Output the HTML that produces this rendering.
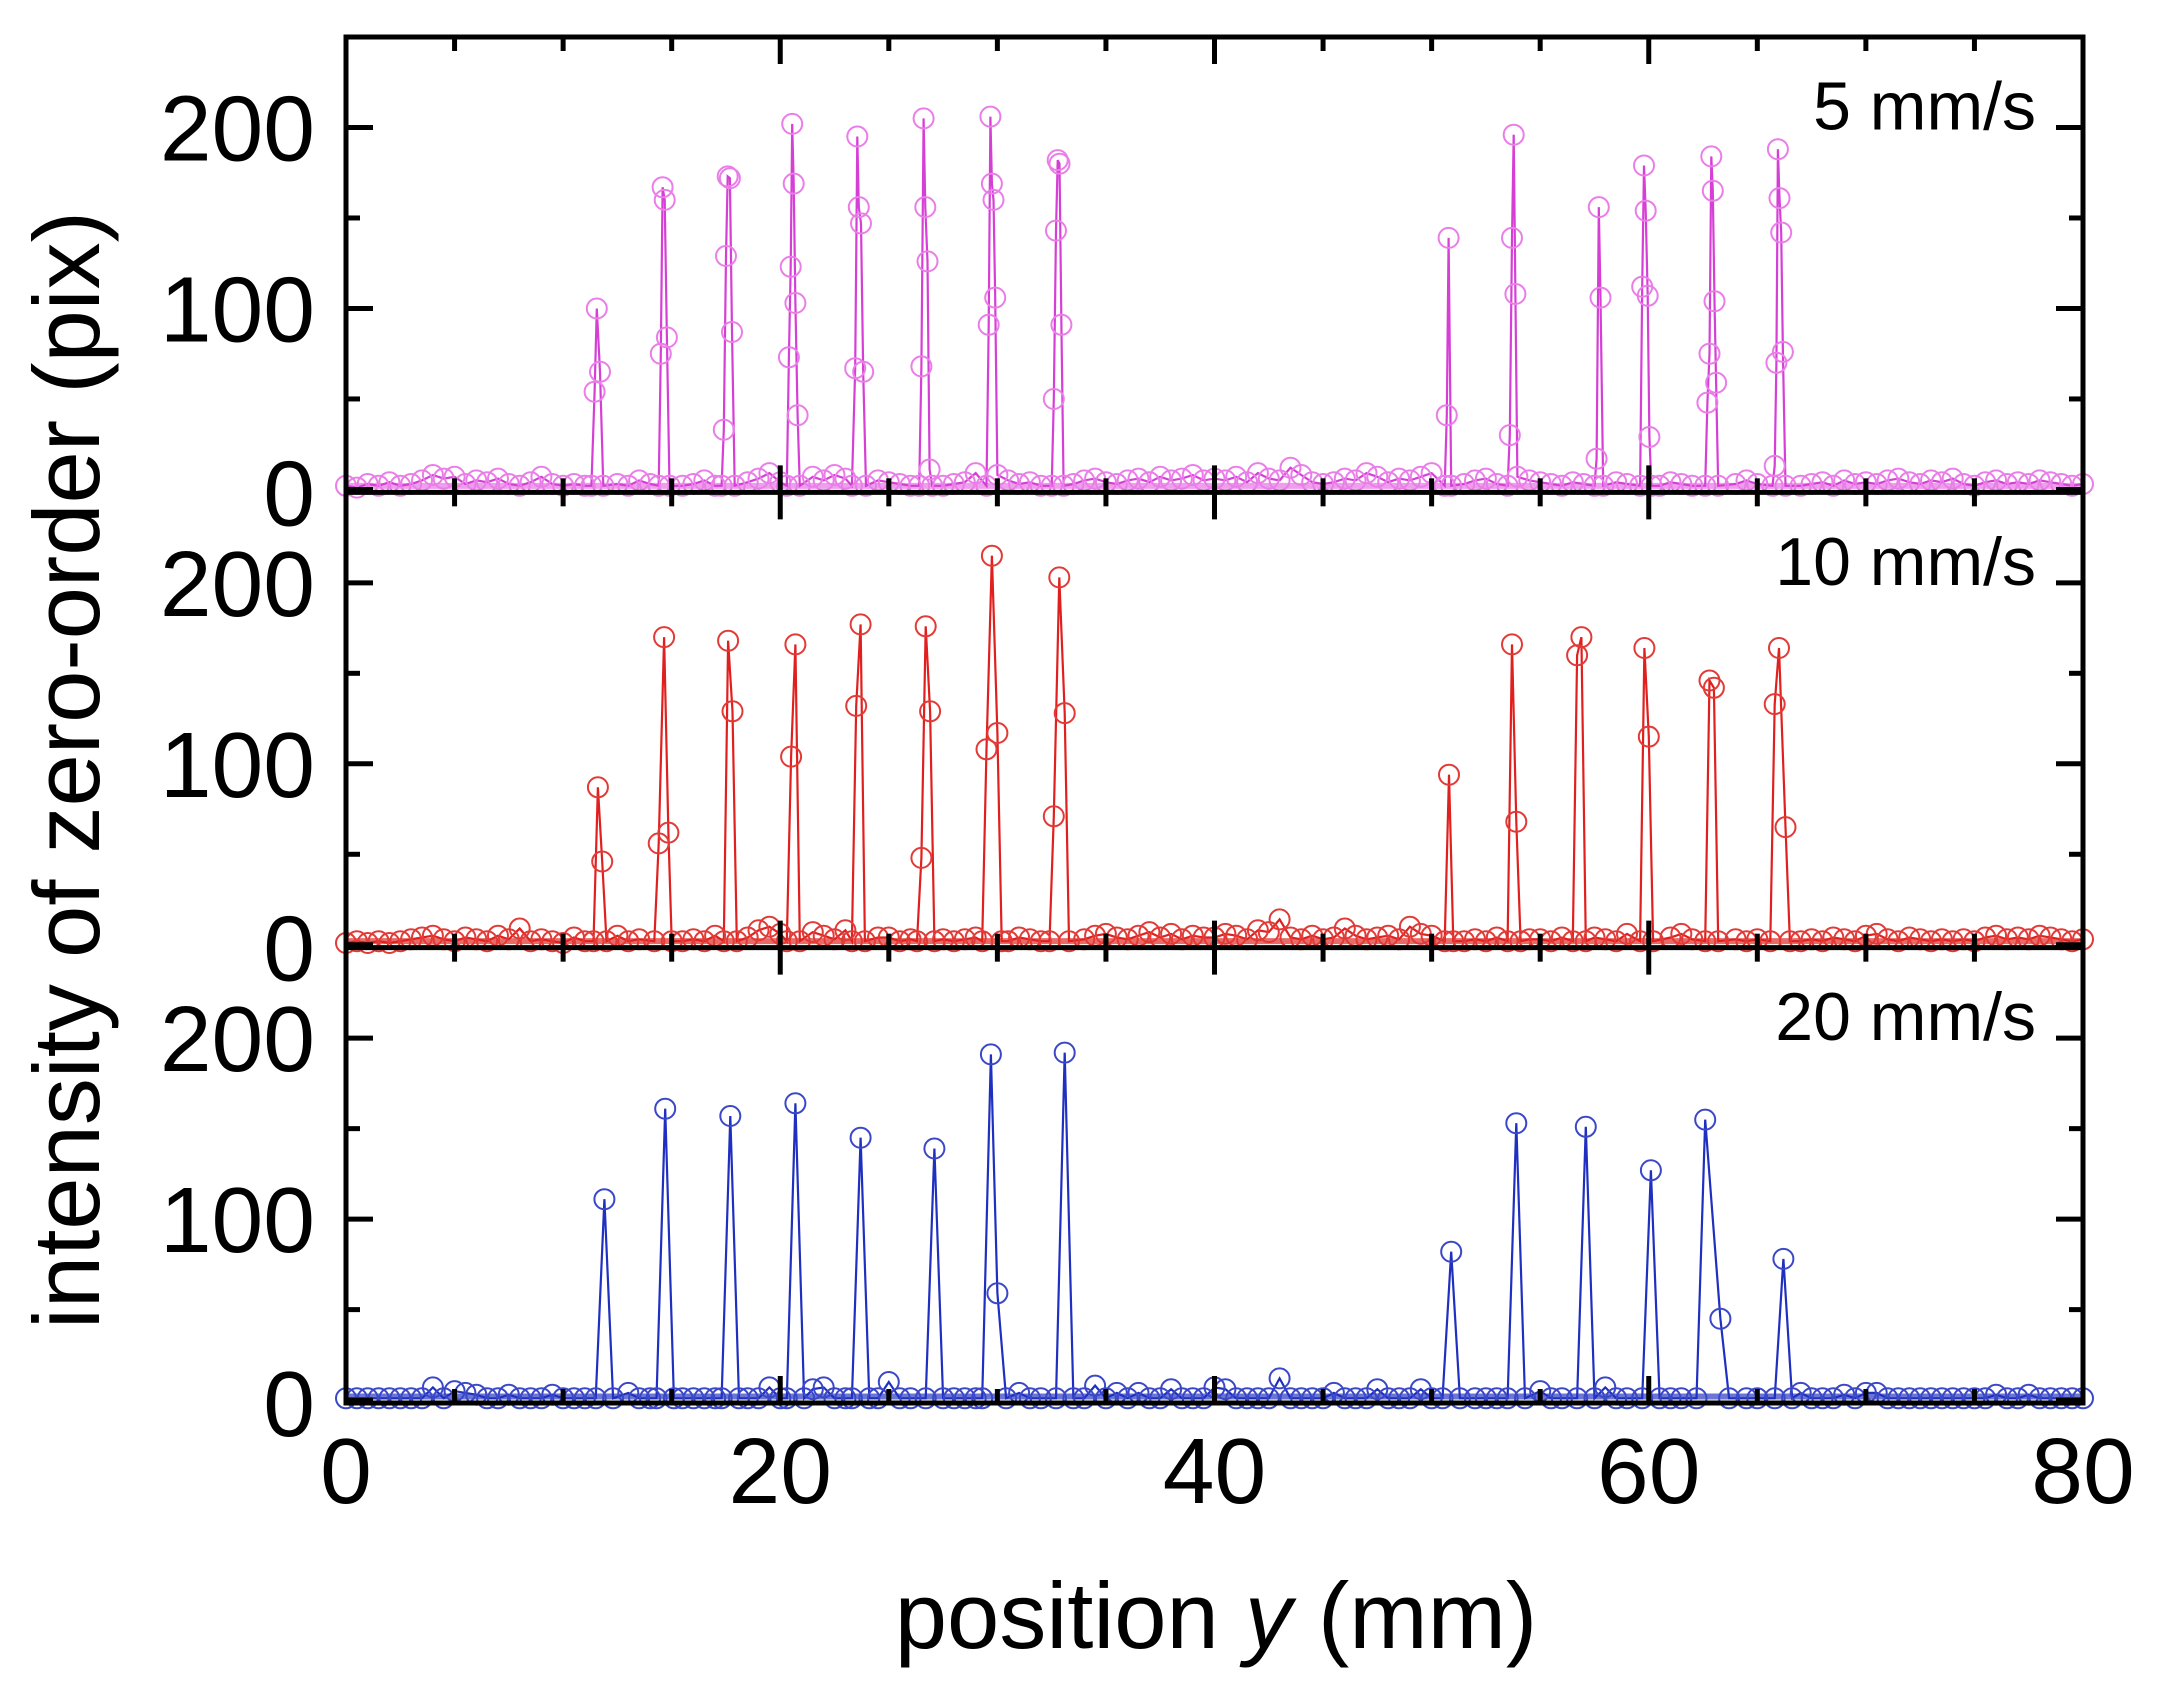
<!DOCTYPE html>
<html><head><meta charset="utf-8"><style>
html,body{margin:0;padding:0;background:#fff;}
svg{display:block;font-family:"Liberation Sans",Arial,sans-serif;}
</style></head><body>
<svg id="chart" width="2160" height="1691" viewBox="0 0 2160 1691" xmlns="http://www.w3.org/2000/svg">
<rect x="0" y="0" width="2160" height="1691" fill="#fff"/>
<g id="series"></g>
<g id="axes"></g>
<text x="0" y="0" transform="translate(99,770) rotate(-90)" text-anchor="middle" font-size="94" fill="#000">intensity of zero-order (pix)</text>
<text x="1216" y="1648" text-anchor="middle" font-size="94" fill="#000">position <tspan font-style="italic">y</tspan> (mm)</text>
</svg>
<script>
// ---- data ----
const xTickLabels = [0, 20, 40, 60, 80];
const yTickLabels = [0, 100, 200];
const panelLabels = ["5 mm/s", "10 mm/s", "20 mm/s"];
const seriesColors = ["#d63fd6", "#e0201e", "#1f2fc0"];
const circleColors = ["#ea7ee8", "#e23a36", "#3a48c8"];

// 5 mm/s peaks
const peakX5 = [11.3,11.45,11.55,11.7,11.85, 14.4,14.5,14.58,14.68,14.78,14.9, 17.3,17.4,17.5,17.58,17.68,17.78,17.9, 20.3,20.4,20.48,20.55,20.62,20.7,20.8,20.9, 23.3,23.45,23.55,23.62,23.72,23.82,23.95, 26.4,26.5,26.6,26.68,26.78,26.88,27.0, 29.5,29.6,29.68,29.75,29.82,29.9,30.0, 32.5,32.6,32.7,32.78,32.86,32.95,33.05, 50.6,50.7,50.78,50.9, 53.5,53.6,53.7,53.78,53.86,53.95, 57.5,57.6,57.7,57.78,57.9, 59.6,59.7,59.78,59.86,59.95,60.03,60.12, 62.6,62.7,62.8,62.88,62.95,63.03,63.1,63.2, 65.7,65.8,65.88,65.95,66.02,66.1,66.18,66.3];
const peakY5 = [2,54,100,65,2, 2,75,167,160,84,2, 2,33,129,173,172,87,2, 2,73,123,202,169,103,41,2, 2,67,195,156,147,65,2, 2,68,205,156,126,11,2, 2,91,206,169,160,106,8, 2,50,143,182,180,91,2, 2,41,139,2, 2,30,139,196,108,7, 2,17,156,106,2, 2,112,179,154,107,29,2, 2,48,75,184,165,104,59,2, 2,13,70,188,161,142,76,2];
// 10 mm/s peaks
const peakX10 = [11.4,11.6,11.8,12.0, 14.2,14.4,14.65,14.85,15.0, 17.4,17.6,17.8,18.0, 20.3,20.5,20.7,20.9, 23.3,23.5,23.7,23.9, 26.3,26.5,26.7,26.9,27.1, 29.3,29.5,29.75,30.0,30.2, 32.4,32.6,32.85,33.1,33.3, 50.6,50.8,51.0, 53.5,53.7,53.9,54.1, 56.5,56.7,56.9,57.1, 59.6,59.8,60.0,60.2, 62.6,62.8,63.0,63.2, 65.6,65.8,66.0,66.3,66.5];
const peakY10 = [2,87,46,2, 2,56,170,62,2, 2,168,129,2, 2,104,166,2, 2,132,177,2, 2,48,176,129,2, 2,108,215,117,2, 2,71,203,128,2, 2,94,2, 2,166,68,2, 2,160,170,2, 2,164,115,2, 2,146,142,2, 2,133,164,65,2];
// 20 mm/s peaks
const peakX20 = [11.5,11.9,12.3, 14.3,14.7,15.1, 17.3,17.7,18.1, 20.3,20.7,21.1, 23.3,23.7,24.1, 26.7,27.1,27.5, 29.3,29.7,30.0,30.4, 32.7,33.1,33.5, 50.5,50.9,51.3, 53.5,53.9,54.3, 56.7,57.1,57.5, 59.7,60.1,60.5, 62.2,62.6,63.3,63.7, 65.8,66.2,66.6];
const peakY20 = [1,111,1, 1,161,1, 1,157,1, 1,164,1, 1,145,1, 1,139,1, 1,191,59,1, 1,192,1, 1,82,1, 1,153,1, 1,151,1, 1,127,1, 1,155,45,1, 1,78,1];

// baseline noise, sampled every 0.5 mm from 0 to 80
const noise5 = [2,1,3,2,4,2,3,5,8,6, 7,3,5,4,6,3,2,4,7,3, 2,3,2,1,4,3,2,5,3,2, 4,2,3,5,2,3,2,4,6,9, 4,3,6,7,5,8,6,4,3,5, 4,3,2,3,5,2,3,4,9,8, 7,5,3,4,2,3,4,3,5,6, 4,3,5,6,4,7,5,6,8,5, 6,5,7,4,9,6,5,12,8,4, 3,4,6,5,9,7,4,6,5,7, 9,6,4,3,5,6,3,7,8,5, 4,3,2,4,3,5,2,4,3,6, 3,2,4,3,2,3,2,4,3,5, 3,2,4,3,2,3,4,2,5,3, 4,3,5,6,4,3,5,4,6,3, 2,4,5,3,4,3,5,4,3,2, 3];
const noise10 = [1,2,1,2,1,2,3,4,5,3, 2,4,3,2,5,3,9,2,3,2, 1,4,2,3,2,5,2,3,4,2, 3,2,3,2,5,3,2,4,8,10, 6,4,9,7,5,3,8,6,3,4, 4,2,3,2,5,3,2,3,4,2, 3,2,4,3,2,3,2,4,3,5, 6,4,3,5,7,4,6,3,5,4, 4,6,5,3,8,7,14,4,3,5, 3,4,9,5,3,4,5,3,10,6, 5,3,4,2,3,2,4,6,5,3, 3,2,4,3,5,4,3,2,6,4, 3,2,4,6,3,2,4,2,3,2, 3,2,5,3,2,3,2,4,3,2, 5,6,3,2,4,3,2,3,2,3, 2,4,5,3,4,3,5,4,3,2, 3];
const noise20 = [1,1,1,1,1,1,1,1,7,1, 5,4,3,1,1,3,1,1,1,3, 1,1,1,1,1,6,4,1,1,1, 1,1,1,1,1,1,1,1,1,7, 1,1,1,6,7,1,1,1,1,1, 10,1,1,1,1,1,1,1,1,1, 1,4,4,1,1,1,1,1,1,8, 1,4,1,4,1,1,6,1,1,1, 7,6,1,1,1,1,12,1,1,1, 1,4,1,1,1,6,1,1,1,6, 1,1,1,1,1,1,1,1,1,1, 5,1,1,1,1,6,7,1,1,1, 1,1,1,1,1,1,1,1,1,1, 1,1,1,1,4,1,1,1,3,1, 4,4,1,1,1,1,1,1,1,1, 1,1,3,1,1,3,1,1,1,1, 1];
const noiseStep = 0.5;

const peakXs = [peakX5, peakX10, peakX20];
const peakYs = [peakY5, peakY10, peakY20];
const noises = [noise5, noise10, noise20];

// ---- layout ----
const NS = "http://www.w3.org/2000/svg";
const L = 346, R = 2083, T = 37, B = 1403;
const panelH = (B - T) / 3;
const xMin = 0, xMax = 80, yMin = -1.6, yMax = 250;
function xScale(v){ return L + (v - xMin) / (xMax - xMin) * (R - L); }
function yScale(p, v){ const bot = T + panelH * (p + 1); return bot - (v - yMin) / (yMax - yMin) * panelH; }
function mk(tag, attrs){ const e = document.createElementNS(NS, tag); for (const k in attrs) e.setAttribute(k, attrs[k]); return e; }

const seriesG = document.getElementById('series');
const axesG = document.getElementById('axes');

for (let p = 0; p < 3; p++) {
  const pts = [];
  for (let i = 0; i < noises[p].length; i++) {
    const x = i * noiseStep;
    const inPeak = peakXs[p].some(px => Math.abs(px - x) < 0.3);
    if (!inPeak) pts.push([x, noises[p][i]]);
  }
  for (let i = 0; i < peakXs[p].length; i++) pts.push([peakXs[p][i], peakYs[p][i]]);
  pts.sort((a, b) => a[0] - b[0]);
  const g = mk('g', {});
  
  
  const band = mk('line', {x1: xScale(0), x2: xScale(80), y1: yScale(p, 2), y2: yScale(p, 2), stroke: circleColors[p], 'stroke-width': 6, opacity: 0.75});
  
  
  g.appendChild(band);
  const line = mk('polyline', {points: pts.map(q => xScale(q[0]).toFixed(1) + ',' + yScale(p, q[1]).toFixed(1)).join(' '), fill: 'none', stroke: seriesColors[p], 'stroke-width': 2.2});
  
  
  g.appendChild(line);
  for (const q of pts) {
    const c = mk('circle', {cx: xScale(q[0]).toFixed(1), cy: yScale(p, q[1]).toFixed(1), r: 10, fill: 'none', stroke: circleColors[p], 'stroke-width': 2});
    
    
    g.appendChild(c);
  }
  seriesG.appendChild(g);

  for (let v = 0; v <= 200; v += 50) {
    const y = yScale(p, v);
    const major = v % 100 === 0;
    const len = major ? 27 : 14;
    const t1 = mk('line', {x1: L, x2: L + len, y1: y, y2: y, stroke: '#000', 'stroke-width': 5});
    
    
    axesG.appendChild(t1);
    const t2 = mk('line', {x1: R, x2: R - len, y1: y, y2: y, stroke: '#000', 'stroke-width': 5});
    
    
    axesG.appendChild(t2);
  }
  for (const v of yTickLabels) {
    const y = v === 0 ? T + panelH * (p + 1) : yScale(p, v);
    const tx = mk('text', {x: 315, y: y + 33, 'text-anchor': 'end', 'font-size': 93, fill: '#000'});
    tx.textContent = v;
    
    
    axesG.appendChild(tx);
  }
  const pl = mk('text', {x: 2036, y: yScale(p, 200) + 2, 'text-anchor': 'end', 'font-size': 68, fill: '#000'});
  pl.textContent = panelLabels[p];
  
  
  axesG.appendChild(pl);
}

for (let b = 0; b <= 3; b++) {
  const y = T + panelH * b;
  const hl = mk('line', {x1: L - 2.5, x2: R + 2.5, y1: y, y2: y, stroke: '#000', 'stroke-width': 5});
  
  
  axesG.appendChild(hl);
  for (let v = 0; v <= 80; v += 5) {
    const x = xScale(v);
    const major = v % 20 === 0;
    const len = major ? 27 : 14;
    const y1 = b === 0 ? y : y - len;
    const y2 = b === 3 ? y : y + len;
    const tk = mk('line', {x1: x, x2: x, y1: y1, y2: y2, stroke: '#000', 'stroke-width': 5});
    
    
    axesG.appendChild(tk);
  }
}
const lv = mk('line', {x1: L, x2: L, y1: T, y2: B, stroke: '#000', 'stroke-width': 5});


axesG.appendChild(lv);
const rv = mk('line', {x1: R, x2: R, y1: T, y2: B, stroke: '#000', 'stroke-width': 5});


axesG.appendChild(rv);
for (const v of xTickLabels) {
  const tx = mk('text', {x: xScale(v), y: 1503, 'text-anchor': 'middle', 'font-size': 93, fill: '#000'});
  tx.textContent = v;
  
  
  axesG.appendChild(tx);
}
</script>
</body></html>
